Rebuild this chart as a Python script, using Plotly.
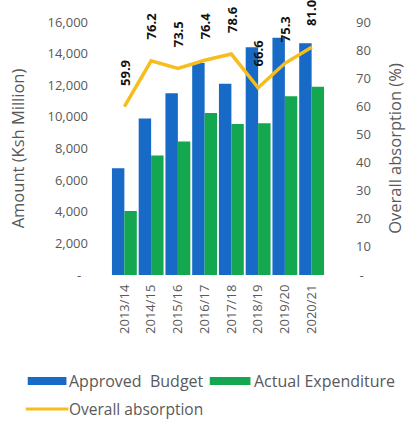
import plotly.graph_objects as go

# Budget vs expenditure per financial year
years = ["2013/14", "2014/15", "2015/16", "2016/17", "2017/18", "2018/19", "2019/20", "2020/21"]
approved_budget = [6750, 9900, 11500, 13400, 12100, 14400, 15000, 14650]
actual_expenditure = [4050, 7550, 8450, 10250, 9550, 9600, 11300, 11900]
absorption = [59.9, 76.2, 73.5, 76.4, 78.6, 66.6, 75.3, 81.0]

left_ticks = [0, 2000, 4000, 6000, 8000, 10000, 12000, 14000, 16000]
left_ticktext = ["-\u00a0\u00a0"] + [f"{v:,}" for v in left_ticks[1:]]
right_ticks = [0, 10, 20, 30, 40, 50, 60, 70, 80, 90]
right_ticktext = ["\u00a0-"] + [str(v) for v in right_ticks[1:]]

BLUE = "#176ac6"
GREEN = "#13a74f"
GOLD = "#f7bd1c"
GREY = "#595959"
FONT = "Open Sans"

W, H = 413, 421
L, R, T, B = 111, 81, 22, 146


def px(x):
    return (x - L) / (W - L - R)


def py(y):
    return (H - B - y) / (H - T - B)


fig = go.Figure()
fig.add_trace(go.Bar(x=years, y=approved_budget, name="Approved  Budget",
                     marker=dict(color=BLUE, line=dict(width=0))))
fig.add_trace(go.Bar(x=years, y=actual_expenditure, name="Actual Expenditure",
                     marker=dict(color=GREEN, line=dict(width=0))))
fig.add_trace(go.Scatter(x=years, y=absorption, name="Overall absorption", yaxis="y2",
                         mode="lines", line=dict(color=GOLD, width=3.5)))

annotations = []
for yr, v in zip(years, absorption):
    annotations.append(dict(x=yr, y=v, xref="x", yref="y2", text=f"{v:.1f}",
                            textangle=-90, showarrow=False, yanchor="bottom",
                            xanchor="center", yshift=19,
                            font=dict(family=FONT, size=13, color="#111111", weight="bold")))

# legend drawn as swatches + labels below the axis
shapes = [
    dict(type="rect", xref="paper", yref="paper", x0=px(25), x1=px(65), y0=py(385), y1=py(377),
         fillcolor=BLUE, line=dict(width=0)),
    dict(type="rect", xref="paper", yref="paper", x0=px(213), x1=px(255), y0=py(385), y1=py(377),
         fillcolor=GREEN, line=dict(width=0)),
    dict(type="line", xref="paper", yref="paper", x0=px(23), x1=px(67), y0=py(409), y1=py(409),
         line=dict(color=GOLD, width=3)),
]
for x, y, t, s in [(66, 381, "Approved  Budget", 16), (257, 381, "Actual Expenditure", 16),
                   (66, 409, "Overall absorption", 15.5)]:
    annotations.append(dict(x=px(x), y=py(y), xref="paper", yref="paper", text=t,
                            showarrow=False, xanchor="left", yanchor="middle",
                            font=dict(family=FONT, size=s, color=GREY)))

fig.update_layout(
    width=W, height=H,
    margin=dict(l=L, r=R, t=T, b=B),
    paper_bgcolor="white", plot_bgcolor="white",
    barmode="group", bargap=0.07, bargroupgap=0,
    showlegend=False,
    font=dict(family=FONT, color=GREY),
    xaxis=dict(type="category", range=[-0.5, 7.5], showgrid=False, showline=False,
               tickangle=-90, ticks="", ticklabelstandoff=6,
               tickfont=dict(family=FONT, size=13, color=GREY)),
    yaxis=dict(range=[0, 16000], tickvals=left_ticks, ticktext=left_ticktext,
               showgrid=False, showline=False, zeroline=False, ticks="",
               ticklabelstandoff=22, tickfont=dict(family=FONT, size=13, color=GREY),
               title=dict(text="Amount (Ksh Million)", standoff=18,
                          font=dict(family=FONT, size=16.5, color=GREY))),
    yaxis2=dict(range=[0, 90], overlaying="y", side="right", tickvals=right_ticks,
                ticktext=right_ticktext, showgrid=False, showline=False, zeroline=False,
                ticks="", ticklabelstandoff=30,
                tickfont=dict(family=FONT, size=13, color=GREY),
                title=dict(text="Overall absorption (%)", standoff=19,
                           font=dict(family=FONT, size=16.5, color=GREY))),
    annotations=annotations,
    shapes=shapes,
)

fig.write_html("out.html")
